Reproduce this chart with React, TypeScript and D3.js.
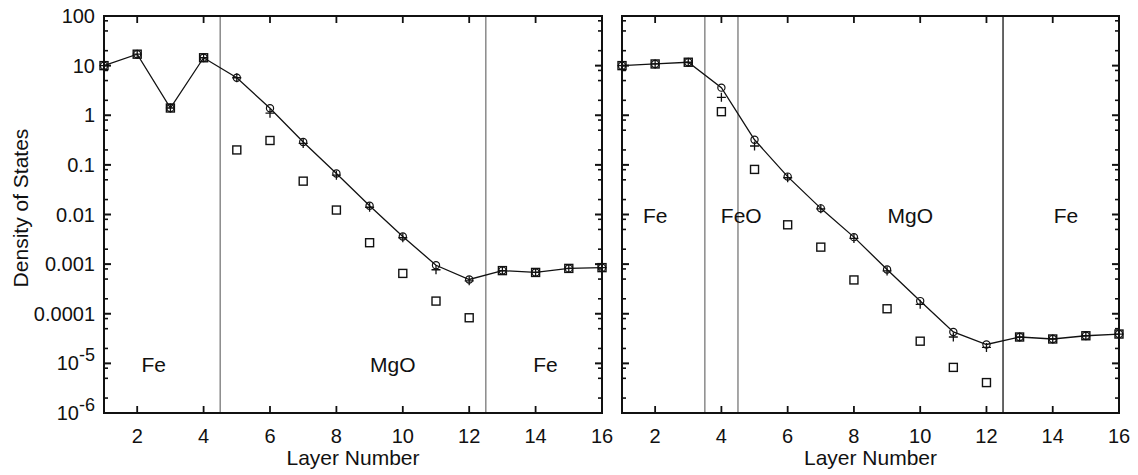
import React from "react";
import * as d3 from "d3";

const layers = [1, 2, 3, 4, 5, 6, 7, 8, 9, 10, 11, 12, 13, 14, 15, 16];

const leftLine = [10, 17, 1.4, 14.4, 5.7, 1.38, 0.29, 0.067, 0.015, 0.0036, 0.00095, 0.00049, 0.00074, 0.00068, 0.00082, 0.00085];
const leftPlus = [10, 17, 1.4, 14.4, 5.7, 1.1, 0.27, 0.062, 0.014, 0.0034, 0.00077, 0.00046, 0.00074, 0.00068, 0.00082, 0.00085];
const leftSquare = [10, 17, 1.4, 14.4, 0.2, 0.31, 0.047, 0.0123, 0.0027, 0.00065, 0.00018, 0.000083, 0.00074, 0.00068, 0.00082, 0.00085];

const rightLine = [10, 10.8, 11.7, 3.6, 0.32, 0.058, 0.0133, 0.0035, 0.00078, 0.00018, 4.3e-5, 2.4e-5, 3.4e-5, 3.1e-5, 3.6e-5, 3.9e-5];
const rightPlus = [10, 10.8, 11.7, 2.3, 0.24, 0.055, 0.013, 0.0033, 0.00073, 0.000155, 3.4e-5, 2.1e-5, 3.4e-5, 3.1e-5, 3.6e-5, 3.9e-5];
const rightSquare = [10, 10.8, 11.7, 1.18, 0.081, 0.0062, 0.0022, 0.00048, 0.000126, 2.8e-5, 8.3e-6, 4.1e-6, 3.4e-5, 3.1e-5, 3.6e-5, 3.9e-5];

const xTicks = [2, 4, 6, 8, 10, 12, 14, 16];
const yDecades = [1e2, 1e1, 1, 1e-1, 1e-2, 1e-3, 1e-4, 1e-5, 1e-6];
const yTickLabels = ["100", "10", "1", "0.1", "0.01", "0.001", "0.0001", "10|-5", "10|-6"];
const minorMultipliers = [2, 5, 8];

const leftBoundaries = [4.5, 12.5];
const leftBoundaryColors = ["#8a8a8a", "#8a8a8a"];
const rightBoundaries = [3.5, 4.5, 12.5];
const rightBoundaryColors = ["#8a8a8a", "#8a8a8a", "#333333"];

const leftRegionLabels = [
  { text: "Fe", x: 2.5 },
  { text: "MgO", x: 9.7 },
  { text: "Fe", x: 14.3 },
];
const rightRegionLabels = [
  { text: "Fe", x: 2 },
  { text: "FeO", x: 4.6 },
  { text: "MgO", x: 9.7 },
  { text: "Fe", x: 14.4 },
];

const FONT = "'Liberation Sans', Arial, Helvetica, sans-serif";

const TOP = 16;
const BOTTOM = 413;

function Panel({ x0, x1, line, plus, square, boundaries, boundaryColors, regionLabels, regionY, showYLabels }: any) {
  const x = d3.scaleLinear().domain([1, 16]).range([x0, x1]);
  const y = d3.scaleLog().domain([1e-6, 100]).range([BOTTOM, TOP]);
  const lineGen = d3.line<number>().x((_, i) => x(layers[i])).y((d) => y(d));

  const minors: number[] = [];
  yDecades.forEach((dv) => {
    if (dv < 100) minorMultipliers.forEach((m) => minors.push(dv * m));
  });

  return (
    <g>
      {boundaries.map((b: number, i: number) => (
        <line key={"b" + i} x1={x(b)} x2={x(b)} y1={TOP} y2={BOTTOM} stroke={boundaryColors[i]} strokeWidth={1.5} />
      ))}
      {regionLabels.map((r: any, i: number) => (
        <text key={"r" + i} x={x(r.x)} y={regionY} textAnchor="middle" fontFamily={FONT} fontSize={21} fill="#111">
          {r.text}
        </text>
      ))}
      <path d={lineGen(line) || ""} fill="none" stroke="#111" strokeWidth={1.3} />
      {line.map((v: number, i: number) => (
        <circle key={"c" + i} cx={x(layers[i])} cy={y(v)} r={3.6} fill="none" stroke="#111" strokeWidth={1.2} />
      ))}
      {plus.map((v: number, i: number) => (
        <path key={"p" + i} d={`M${x(layers[i]) - 4.5},${y(v)}h9M${x(layers[i])},${y(v) - 4.5}v9`} stroke="#111" strokeWidth={1.3} />
      ))}
      {square.map((v: number, i: number) => (
        <rect key={"s" + i} x={x(layers[i]) - 4} y={y(v) - 4} width={8} height={8} fill="none" stroke="#111" strokeWidth={1.4} />
      ))}
      {/* frame */}
      <rect x={x0} y={TOP} width={x1 - x0} height={BOTTOM - TOP} fill="none" stroke="#111" strokeWidth={2} />
      {/* x ticks */}
      {xTicks.map((t) => (
        <g key={"xt" + t}>
          <line x1={x(t)} x2={x(t)} y1={BOTTOM} y2={BOTTOM - 7} stroke="#111" strokeWidth={1.8} />
          <line x1={x(t)} x2={x(t)} y1={TOP} y2={TOP + 7} stroke="#111" strokeWidth={1.8} />
          <text x={x(t)} y={443} textAnchor="middle" fontFamily={FONT} fontSize={20} fill="#111">
            {t}
          </text>
        </g>
      ))}
      {/* y ticks */}
      {yDecades.map((dv, i) => (
        <g key={"yt" + i}>
          <line x1={x0} x2={x0 + 7} y1={y(dv)} y2={y(dv)} stroke="#111" strokeWidth={2} />
          <line x1={x1} x2={x1 - 7} y1={y(dv)} y2={y(dv)} stroke="#111" strokeWidth={2} />
        </g>
      ))}
      {minors.map((mv, i) => (
        <g key={"ym" + i}>
          <line x1={x0} x2={x0 + 4} y1={y(mv)} y2={y(mv)} stroke="#111" strokeWidth={1.6} />
          <line x1={x1} x2={x1 - 4} y1={y(mv)} y2={y(mv)} stroke="#111" strokeWidth={1.6} />
        </g>
      ))}
      {showYLabels &&
        yDecades.map((dv, i) => {
          const lab = yTickLabels[i];
          if (lab.includes("|")) {
            const [base, exp] = lab.split("|");
            return (
              <text key={"yl" + i} x={x0 - 9} y={y(dv) + 7} textAnchor="end" fontFamily={FONT} fontSize={20} fill="#111">
                {base}
                <tspan dy={-9} fontSize={18}>{exp}</tspan>
              </text>
            );
          }
          return (
            <text key={"yl" + i} x={x0 - 9} y={y(dv) + 7} textAnchor="end" fontFamily={FONT} fontSize={20} fill="#111">
              {lab}
            </text>
          );
        })}
      <text x={(x0 + x1) / 2} y={465} textAnchor="middle" fontFamily={FONT} fontSize={21} fill="#111">
        Layer Number
      </text>
    </g>
  );
}

export default function App() {
  return (
    <svg width={1138} height={475} style={{ position: "absolute", left: 0, top: 0, background: "#fff" }}>
      <rect x={0} y={0} width={1138} height={475} fill="#fff" />
      <Panel
        x0={104}
        x1={602}
        line={leftLine}
        plus={leftPlus}
        square={leftSquare}
        boundaries={leftBoundaries}
        boundaryColors={leftBoundaryColors}
        regionLabels={leftRegionLabels}
        regionY={372}
        showYLabels={true}
      />
      <Panel
        x0={622}
        x1={1119}
        line={rightLine}
        plus={rightPlus}
        square={rightSquare}
        boundaries={rightBoundaries}
        boundaryColors={rightBoundaryColors}
        regionLabels={rightRegionLabels}
        regionY={223}
        showYLabels={false}
      />
      <text
        transform="translate(28,208) rotate(-90)"
        textAnchor="middle"
        fontFamily={FONT}
        fontSize={21}
        fill="#111"
      >
        Density of States
      </text>
    </svg>
  );
}
